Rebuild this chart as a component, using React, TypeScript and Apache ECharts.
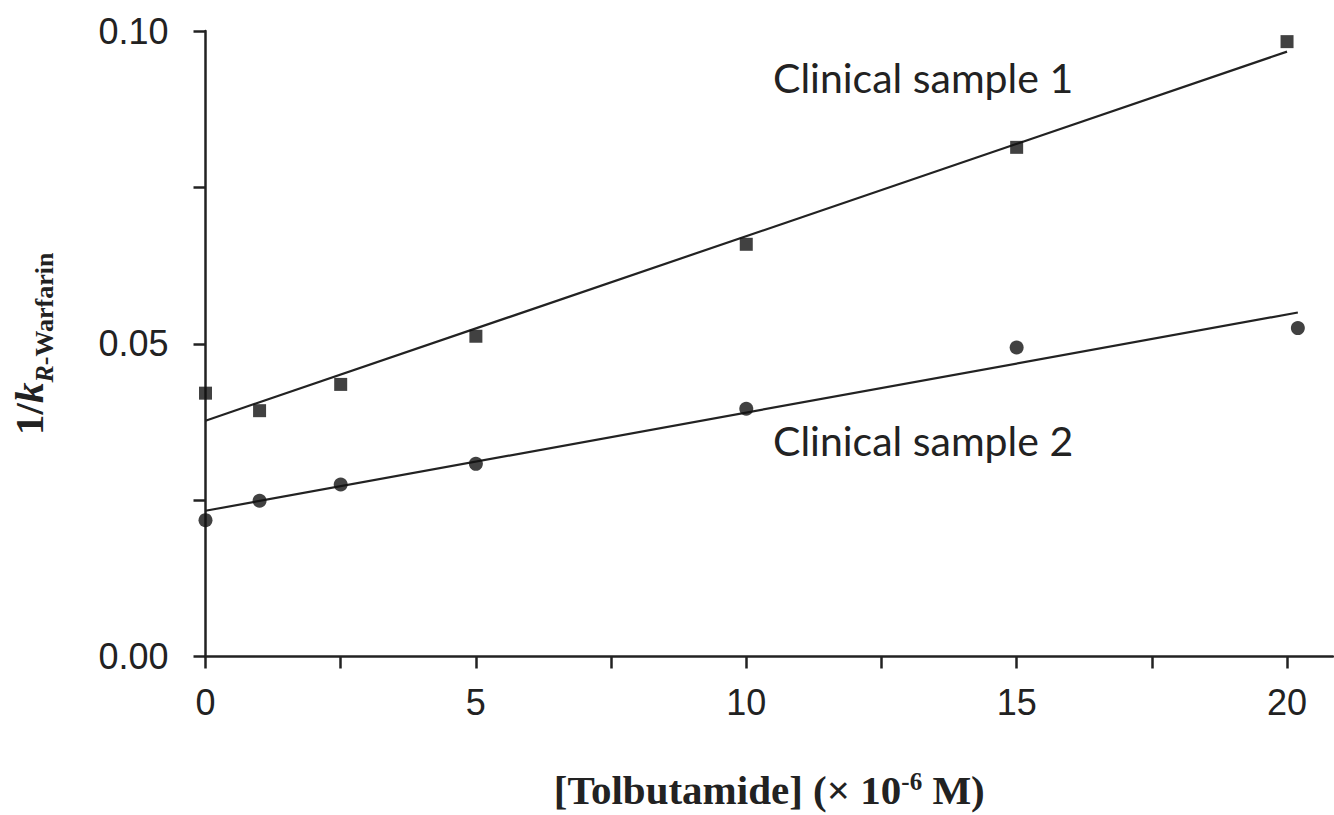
import React, { useEffect, useRef } from "react";
import * as echarts from "echarts";

// Tolbutamide concentration (x 10^-6 M)
const conc1 = [0, 1, 2.5, 5, 10, 15, 20];
const sample1 = [0.0421, 0.0393, 0.0435, 0.0512, 0.0659, 0.0814, 0.0983];
const conc2 = [0, 1, 2.5, 5, 10, 15, 20.2];
const sample2 = [0.0218, 0.0249, 0.0275, 0.0308, 0.0396, 0.0494, 0.0525];

// fitted regression lines (end points)
const fit1X = [0, 20];
const fit1Y = [0.0377, 0.0967];
const fit2X = [0, 20.2];
const fit2Y = [0.0233, 0.055];

const xTicks = [0, 2.5, 5, 7.5, 10, 12.5, 15, 17.5, 20];
const xLabels = [0, 5, 10, 15, 20];
const yTicks = [0, 0.025, 0.05, 0.075, 0.1];
const yLabels = [0, 0.05, 0.1];

const seriesNames = ["Clinical sample 1", "Clinical sample 2"];

const INK = "#222";

export default function App() {
  const ref = useRef<HTMLDivElement>(null);
  useEffect(() => {
    if (!ref.current) return;
    const chart = echarts.init(ref.current, undefined, { renderer: "svg" });
    const zip = (xs: number[], ys: number[]) => xs.map((x, i) => [x, ys[i]]);
    chart.setOption({
      animation: false,
      backgroundColor: "#fff",
      grid: { left: 202, right: 1, top: 31, bottom: 154, containLabel: false },
      xAxis: {
        type: "value",
        min: 0,
        max: 20.85,
        splitLine: { show: false },
        axisLine: { show: true, onZero: false, lineStyle: { color: INK, width: 2.5 } },
        axisTick: { show: true, customValues: xTicks, length: 12, lineStyle: { color: INK, width: 2.5 } },
        axisLabel: {
          customValues: xLabels,
          margin: 28,
          fontSize: 36,
          fontFamily: "Liberation Sans",
          color: INK,
          formatter: (v: number) => String(v),
        },
        name: "{a|[Tolbutamide] (× 10}{sup|-6}{a| M)}",
        nameLocation: "middle",
        nameGap: 112,
        nameTextStyle: {
          rich: {
            a: { fontSize: 41, fontWeight: "bold", fontFamily: "Liberation Serif", color: INK, lineHeight: 42 },
            sup: { fontSize: 25, fontWeight: "bold", fontFamily: "Liberation Serif", color: INK, lineHeight: 25, verticalAlign: "top" },
          },
        },
      },
      yAxis: {
        type: "value",
        min: 0,
        max: 0.1,
        splitLine: { show: false },
        axisLine: { show: true, onZero: false, lineStyle: { color: INK, width: 2.5 } },
        axisTick: { show: true, customValues: yTicks, length: 12, lineStyle: { color: INK, width: 2.5 } },
        axisLabel: {
          customValues: yLabels,
          margin: 37,
          fontSize: 36,
          fontFamily: "Liberation Sans",
          color: INK,
          formatter: (v: number) => v.toFixed(2),
        },
        name: "{a|1/}{k|k}{s|R}{w|-Warfarin}",
        nameLocation: "middle",
        nameGap: 148,
        nameTextStyle: {
          rich: {
            a: { fontSize: 41, fontWeight: "bold", fontFamily: "Liberation Serif", color: INK, lineHeight: 58 },
            k: { fontSize: 41, fontWeight: "bold", fontStyle: "italic", fontFamily: "Liberation Serif", color: INK, lineHeight: 58 },
            s: { fontSize: 26, fontWeight: "bold", fontStyle: "italic", fontFamily: "Liberation Serif", color: INK, lineHeight: 26, verticalAlign: "bottom" },
            w: { fontSize: 26, fontWeight: "bold", fontFamily: "Liberation Serif", color: INK, lineHeight: 26, verticalAlign: "bottom" },
          },
        },
      },
      graphic: [
        {
          type: "text",
          x: 773,
          y: 77,
          style: { text: seriesNames[0], fontSize: 41, fontFamily: "Lato", fill: INK, align: "left", verticalAlign: "middle" },
        },
        {
          type: "text",
          x: 773,
          y: 440,
          style: { text: seriesNames[1], fontSize: 41, fontFamily: "Lato", fill: INK, align: "left", verticalAlign: "middle" },
        },
      ],
      series: [
        {
          name: seriesNames[0] + " fit",
          type: "line",
          data: zip(fit1X, fit1Y),
          showSymbol: false,
          lineStyle: { color: INK, width: 2.2 },
          z: 2,
        },
        {
          name: seriesNames[1] + " fit",
          type: "line",
          data: zip(fit2X, fit2Y),
          showSymbol: false,
          lineStyle: { color: INK, width: 2.2 },
          z: 2,
        },
        {
          name: seriesNames[0],
          type: "scatter",
          symbol: "rect",
          symbolSize: 13,
          data: zip(conc1, sample1),
          itemStyle: { color: "#111" },
          z: 3,
        },
        {
          name: seriesNames[1],
          type: "scatter",
          symbol: "circle",
          symbolSize: 14,
          data: zip(conc2, sample2),
          itemStyle: { color: "#111" },
          z: 3,
        },
      ],
    });
    return () => chart.dispose();
  }, []);
  return (
    <div
      ref={ref}
      style={{ position: "fixed", left: 0, top: 0, width: 1334, height: 815, background: "#fff" }}
    />
  );
}
